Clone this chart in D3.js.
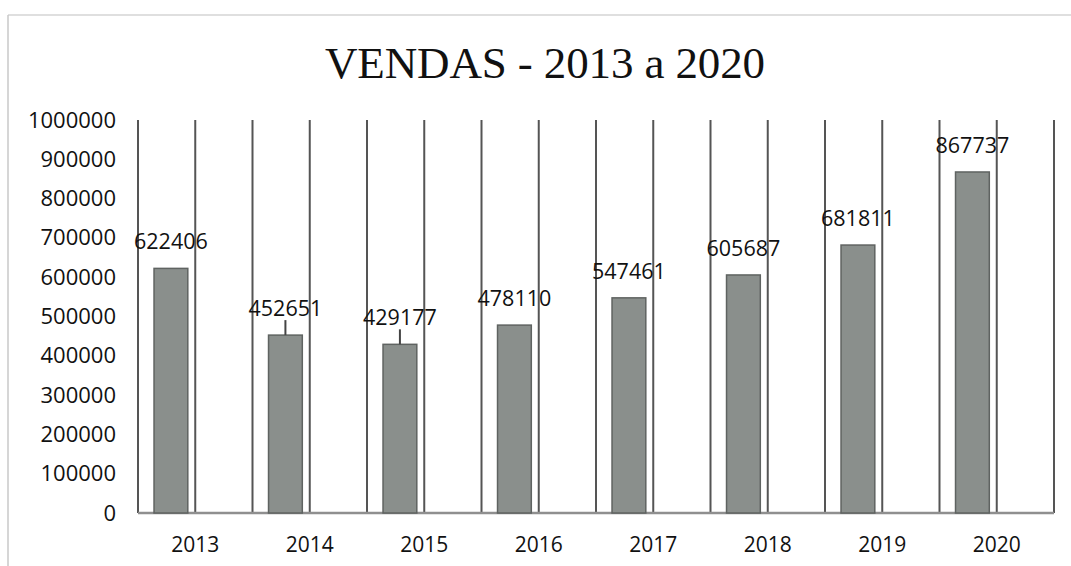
<!DOCTYPE html>
<html>
<head>
<meta charset="utf-8">
<script src="https://cdn.jsdelivr.net/npm/d3@7/dist/d3.min.js"></script>
<style>
  html, body { margin: 0; padding: 0; background: #fff; }
  svg { display: block; }
</style>
</head>
<body>
<svg id="chart" width="1071" height="566"></svg>
<script>
// ---- data ----
const title = "VENDAS - 2013 a 2020";
const years = ["2013", "2014", "2015", "2016", "2017", "2018", "2019", "2020"];
const sales = [622406, 452651, 429177, 478110, 547461, 605687, 681811, 867737];
const yTicks = [0, 100000, 200000, 300000, 400000, 500000, 600000, 700000, 800000, 900000, 1000000];
const markedYears = ["2014", "2015"]; // short line above bar seen in the scan

const data = years.map((y, i) => ({ year: y, value: sales[i] }));

// ---- layout ----
const W = 1071, H = 566;
const plot = { left: 138, right: 1054, top: 120, bottom: 513 };
const svg = d3.select("#chart");
const labelFont = "'Open Sans', 'Noto Sans', sans-serif";

const x = d3.scaleBand().domain(years).range([plot.left, plot.right]).padding(0);
const y = d3.scaleLinear().domain([0, 1000000]).range([plot.bottom, plot.top]);
const bw = x.bandwidth();
const barOffset = bw * 0.14, barW = bw * 0.295;

// frame (scanned page edges)
svg.append("line").attr("x1", 8).attr("x2", W).attr("y1", 15).attr("y2", 15)
  .attr("stroke", "#d4d4d4").attr("stroke-width", 1.5);
svg.append("line").attr("x1", 8).attr("x2", 8).attr("y1", 15).attr("y2", H)
  .attr("stroke", "#c8c8c8").attr("stroke-width", 1.5);

// title
svg.append("text")
  .attr("x", 545).attr("y", 78)
  .attr("text-anchor", "middle")
  .attr("font-family", "'Liberation Serif', 'DejaVu Serif', serif")
  .attr("font-size", 45)
  .attr("textLength", 440)
  .attr("lengthAdjust", "spacing")
  .attr("fill", "#111")
  .text(title);

// vertical grid lines at band edges and band middles
const gridXs = [];
years.forEach(yr => { gridXs.push(x(yr)); gridXs.push(x(yr) + bw / 2); });
gridXs.push(plot.right);
svg.append("g").selectAll("line").data(gridXs).join("line")
  .attr("x1", d => d).attr("x2", d => d)
  .attr("y1", y(1000000)).attr("y2", y(0))
  .attr("stroke", "#555").attr("stroke-width", 2);

// x axis baseline
svg.append("line")
  .attr("x1", plot.left).attr("x2", plot.right)
  .attr("y1", y(0)).attr("y2", y(0))
  .attr("stroke", "#8f8f8f").attr("stroke-width", 2.5);

// bars
svg.append("g").selectAll("rect").data(data).join("rect")
  .attr("x", d => x(d.year) + barOffset)
  .attr("width", barW)
  .attr("y", d => y(d.value))
  .attr("height", d => y(0) - y(d.value))
  .attr("fill", "#8a8f8c")
  .attr("stroke", "#5f6361")
  .attr("stroke-width", 1.5);

// short marks above some bars
svg.append("g").selectAll("line").data(data.filter(d => markedYears.includes(d.year))).join("line")
  .attr("x1", d => x(d.year) + barOffset + barW / 2)
  .attr("x2", d => x(d.year) + barOffset + barW / 2)
  .attr("y1", d => y(d.value) - 15)
  .attr("y2", d => y(d.value))
  .attr("stroke", "#444").attr("stroke-width", 2);

// value labels
svg.append("g").selectAll("text").data(data).join("text")
  .attr("x", d => x(d.year) + barOffset + barW / 2)
  .attr("y", d => y(d.value) - 19)
  .attr("text-anchor", "middle")
  .attr("font-family", labelFont)
  .attr("font-size", 21.5)
  .attr("fill", "#111")
  .text(d => d.value);

// y axis labels
const yAxis = d3.axisLeft(y).tickValues(yTicks).tickSize(0).tickPadding(0).tickFormat(d3.format("d"));
const gy = svg.append("g").attr("transform", "translate(116,0)").call(yAxis);
gy.select(".domain").remove();
gy.selectAll("text")
  .attr("font-family", labelFont)
  .attr("font-size", 22)
  .attr("fill", "#111");

// x axis labels
const xAxis = d3.axisBottom(x).tickSize(0).tickPadding(0);
const gx = svg.append("g").attr("transform", `translate(0,${y(0)})`).call(xAxis);
gx.select(".domain").remove();
gx.selectAll("text")
  .attr("dy", 0)
  .attr("y", 39)
  .attr("font-family", labelFont)
  .attr("font-size", 21)
  .attr("fill", "#111");
</script>
</body>
</html>
